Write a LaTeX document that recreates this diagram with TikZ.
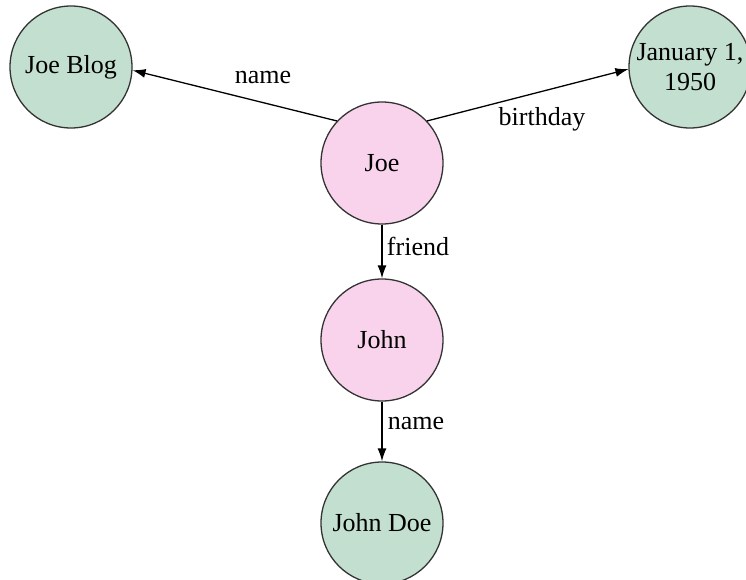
\documentclass[tikz,border=0pt]{standalone}
\usepackage{fontspec}
\setmainfont{Liberation Serif}
\usetikzlibrary{arrows.meta}
\definecolor{nodegreen}{RGB}{194,223,207}
\definecolor{nodepink}{RGB}{248,211,235}
\tikzset{
  base/.style={circle, draw=black!80, line width=1.3pt, minimum size=122pt, inner sep=0pt, align=center, font=\fontsize{26}{30}\selectfont},
  literal/.style={base, fill=nodegreen},
  resource/.style={base, fill=nodepink},
  edge/.style={line width=1.3pt, -{Latex[length=13pt,width=9pt]}},
  elabel/.style={font=\fontsize{26}{30}\selectfont, inner sep=0pt}
}
\begin{document}
\begin{tikzpicture}[x=1pt,y=-1pt]
\useasboundingbox (0,0) rectangle (746,580);
\fill[white] (0,0) rectangle (746,580);
\clip (0,0) rectangle (746,580);
\node[literal] (joeblog) at (71,67) {Joe Blog};
\node[literal] (jan) at (690,67) {January 1,\\1950};
\node[resource] (joe) at (382,163) {Joe};
\node[resource] (john) at (382,340) {John};
\node[literal] (johndoe) at (382,523) {John Doe};
\draw[edge] (joe.137) -- (joeblog.-3);
\draw[edge] (joe.43) -- (jan.182);
\draw[edge] (joe.south) -- (john.north);
\draw[edge] (john.south) -- (johndoe.north);
\node[elabel] (l1) at (263,78) {name};
\node[elabel] (l2) at (542,119) {birthday};
\node[elabel] (l3) at (418,246) {friend};
\node[elabel] (l4) at (416,423) {name};
\end{tikzpicture}
\end{document}
